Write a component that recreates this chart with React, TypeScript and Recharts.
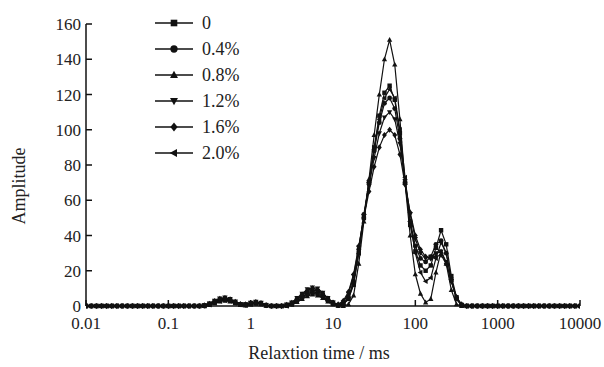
import React from 'react';
import { LineChart, Line, XAxis, YAxis } from 'recharts';

// relaxation times (ms), 16 points per decade
const TIMES = [
  0.01, 0.01155, 0.01334, 0.0154, 0.01778, 0.02054, 0.02371, 0.02738, 0.03162, 0.03652, 0.04217, 0.0487, 0.05623, 0.06494, 0.07499, 0.0866,
  0.1, 0.1155, 0.1334, 0.154, 0.1778, 0.2054, 0.2371, 0.2738, 0.3162, 0.3652, 0.4217, 0.487, 0.5623, 0.6494, 0.7499, 0.866,
  1, 1.155, 1.334, 1.54, 1.778, 2.054, 2.371, 2.738, 3.162, 3.652, 4.217, 4.87, 5.623, 6.494, 7.499, 8.66,
  10, 11.55, 13.34, 15.4, 17.78, 20.54, 23.71, 27.38, 31.62, 36.52, 42.17, 48.7, 56.23, 64.94, 74.99, 86.6,
  100, 115.5, 133.4, 154, 177.8, 205.4, 237.1, 273.8, 316.2, 365.2, 421.7, 487, 562.3, 649.4, 749.9, 866,
  1000, 1155, 1334, 1540, 1778, 2054, 2371, 2738, 3162, 3652, 4217, 4870, 5623, 6494, 7499, 8660,
  10000,
];

const S0 = [
  0, 0, 0, 0, 0, 0, 0, 0, 0, 0, 0, 0, 0, 0, 0, 0,
  0, 0, 0, 0, 0, 0, 0, 0.3, 1.2, 2.5, 3.5, 4, 3.3, 2, 1, 0.8,
  1.5, 2, 1.5, 0.5, 0, 0, 0, 0.5, 1.5, 3.5, 6, 8, 9, 8.5, 6.5, 4,
  1.8, 0.5, 1, 4, 12, 30, 50, 70, 90, 108, 121, 125, 117, 98, 70, 46,
  31, 23, 20, 23, 33, 43, 35, 17, 5, 0.5, 0, 0, 0, 0, 0, 0,
  0, 0, 0, 0, 0, 0, 0, 0, 0, 0, 0, 0, 0, 0, 0, 0,
  0,
];

const S04 = [
  0, 0, 0, 0, 0, 0, 0, 0, 0, 0, 0, 0, 0, 0, 0, 0,
  0, 0, 0, 0, 0, 0, 0, 0, 0.8, 2, 3, 3.5, 3, 1.8, 0.8, 0.5,
  1.2, 1.8, 1.2, 0.3, 0, 0, 0, 0.3, 1, 3, 5, 7, 8, 7.5, 5.5, 3,
  1.2, 0.3, 1, 5, 14, 32, 52, 70, 88, 104, 115, 118, 112, 95, 70, 48,
  34, 27, 25, 28, 35, 37, 30, 15, 4, 0.5, 0, 0, 0, 0, 0, 0,
  0, 0, 0, 0, 0, 0, 0, 0, 0, 0, 0, 0, 0, 0, 0, 0,
  0,
];

const S08 = [
  0, 0, 0, 0, 0, 0, 0, 0, 0, 0, 0, 0, 0, 0, 0, 0,
  0, 0, 0, 0, 0, 0, 0, 0, 0.5, 1.5, 2.5, 3, 2.5, 1.5, 0.6, 0.3,
  0.8, 1.3, 1, 0.2, 0, 0, 0, 0, 0.8, 2.2, 4, 5.5, 6.5, 6, 4.5, 2.5,
  1, 0.2, 0, 1, 6, 24, 48, 72, 97, 120, 140, 151, 137, 106, 70, 40,
  18, 7, 2, 4, 19, 31, 24, 9, 1, 0, 0, 0, 0, 0, 0, 0,
  0, 0, 0, 0, 0, 0, 0, 0, 0, 0, 0, 0, 0, 0, 0, 0,
  0,
];

const S12 = [
  0, 0, 0, 0, 0, 0, 0, 0, 0, 0, 0, 0, 0, 0, 0, 0,
  0, 0, 0, 0, 0, 0, 0, 0.5, 1.5, 3, 4.2, 4.8, 4, 2.5, 1.2, 1,
  1.8, 2.4, 1.8, 0.6, 0, 0, 0, 0.8, 2, 4.5, 7, 9.5, 10.5, 10, 7.5, 4.5,
  2, 0.5, 2, 7, 17, 33, 51, 68, 84, 98, 107, 110, 106, 92, 71, 52,
  38, 30, 27, 28, 30, 31, 25, 14, 4, 0.5, 0, 0, 0, 0, 0, 0,
  0, 0, 0, 0, 0, 0, 0, 0, 0, 0, 0, 0, 0, 0, 0, 0,
  0,
];

const S16 = [
  0, 0, 0, 0, 0, 0, 0, 0, 0, 0, 0, 0, 0, 0, 0, 0,
  0, 0, 0, 0, 0, 0, 0, 0.4, 1.3, 2.8, 4, 4.5, 3.8, 2.3, 1.1, 0.9,
  1.6, 2.2, 1.6, 0.5, 0, 0, 0, 0.6, 1.8, 4, 6.5, 8.8, 10, 9.2, 7, 4.2,
  2, 1, 3, 8, 18, 34, 50, 65, 79, 90, 97, 100, 97, 86, 69, 53,
  40, 32, 28, 27, 28, 29, 24, 14, 5, 1, 0, 0, 0, 0, 0, 0,
  0, 0, 0, 0, 0, 0, 0, 0, 0, 0, 0, 0, 0, 0, 0, 0,
  0,
];

const S20 = [
  0, 0, 0, 0, 0, 0, 0, 0, 0, 0, 0, 0, 0, 0, 0, 0,
  0, 0, 0, 0, 0, 0, 0, 0, 0.7, 1.8, 2.8, 3.3, 2.8, 1.6, 0.7, 0.4,
  1, 1.5, 1.1, 0.3, 0, 0, 0, 0, 1, 2.6, 4.5, 6.2, 7.2, 6.8, 5, 2.8,
  1.2, 0.3, 1, 4, 13, 30, 50, 70, 89, 106, 118, 123, 118, 100, 73, 48,
  30, 19, 14, 16, 27, 36, 30, 15, 4, 0.5, 0, 0, 0, 0, 0, 0,
  0, 0, 0, 0, 0, 0, 0, 0, 0, 0, 0, 0, 0, 0, 0, 0,
  0,
];

const NAMES = ['0', '0.4%', '0.8%', '1.2%', '1.6%', '2.0%'];
const VALUES = [S0, S04, S08, S12, S16, S20];
const SHAPES = ['square', 'circle', 'up', 'down', 'diamond', 'left'];

const X_TICKS = [0.01, 0.1, 1, 10, 100, 1000, 10000];
const Y_TICKS = [0, 20, 40, 60, 80, 100, 120, 140, 160];

const rows = TIMES.map((t, i) => {
  const row: Record<string, number> = { t };
  VALUES.forEach((v, j) => {
    row[`s${j}`] = v[i];
  });
  return row;
});

const FONT = '"Liberation Serif", "Times New Roman", serif';
const INK = '#111';

function Marker({ shape, cx, cy, s }: { shape: string; cx: number; cy: number; s: number }) {
  switch (shape) {
    case 'square':
      return <rect x={cx - s} y={cy - s} width={2 * s} height={2 * s} fill={INK} />;
    case 'circle':
      return <circle cx={cx} cy={cy} r={s * 1.1} fill={INK} />;
    case 'up':
      return <polygon points={`${cx},${cy - s * 1.3} ${cx + s * 1.2},${cy + s * 0.9} ${cx - s * 1.2},${cy + s * 0.9}`} fill={INK} />;
    case 'down':
      return <polygon points={`${cx},${cy + s * 1.3} ${cx + s * 1.2},${cy - s * 0.9} ${cx - s * 1.2},${cy - s * 0.9}`} fill={INK} />;
    case 'diamond':
      return <polygon points={`${cx},${cy - s * 1.4} ${cx + s * 1.1},${cy} ${cx},${cy + s * 1.4} ${cx - s * 1.1},${cy}`} fill={INK} />;
    default:
      return <polygon points={`${cx - s * 1.3},${cy} ${cx + s * 0.9},${cy - s * 1.2} ${cx + s * 0.9},${cy + s * 1.2}`} fill={INK} />;
  }
}

function XLabel({ viewBox }: any) {
  const { x, y, width, height } = viewBox;
  return (
    <text x={x + width / 2 - 14} y={y + height - 8} textAnchor="middle" fontFamily={FONT} fontSize={18} fill="#222">
      Relaxtion time / ms
    </text>
  );
}

function YLabel({ viewBox }: any) {
  const { x, y, height } = viewBox;
  const cx = x + 19;
  const cy = y + height / 2 + 21;
  return (
    <text x={cx} y={cy} transform={`rotate(-90, ${cx}, ${cy})`} textAnchor="middle" dominantBaseline="central" fontFamily={FONT} fontSize={18} fill="#222">
      Amplitude
    </text>
  );
}

function LegendBox() {
  return (
    <svg width={604} height={367} style={{ position: 'absolute', left: 0, top: 0, pointerEvents: 'none' }}>
      {NAMES.map((name, i) => {
        const y = 23 + i * 26;
        return (
          <g key={name}>
            <line x1={155} x2={193} y1={y} y2={y} stroke={INK} strokeWidth={1.4} />
            <Marker shape={SHAPES[i]} cx={174} cy={y} s={3.3} />
            <text x={202} y={y} dominantBaseline="central" fontFamily={FONT} fontSize={18} fill="#222">
              {name}
            </text>
          </g>
        );
      })}
    </svg>
  );
}

export default function App() {
  const tickStyle = { fill: '#222', fontSize: 17, fontFamily: FONT };
  return (
    <div style={{ position: 'absolute', left: 0, top: 0, width: 604, height: 367, background: '#fff' }}>
      <LineChart width={604} height={367} data={rows} margin={{ top: 24, right: 24, left: 0, bottom: 0 }}>
        <XAxis
          dataKey="t"
          type="number"
          scale="log"
          domain={[0.01, 10000]}
          ticks={X_TICKS}
          interval={0}
          tickFormatter={(v: number) => String(v)}
          height={61}
          tickSize={-6}
          tickMargin={17}
          stroke={INK}
          strokeWidth={1.5}
          tick={tickStyle}
          allowDataOverflow
          label={{ content: XLabel }}
        />
        <YAxis
          type="number"
          domain={[0, 160]}
          ticks={Y_TICKS}
          interval={0}
          width={86}
          tickSize={-6}
          tickMargin={11}
          stroke={INK}
          strokeWidth={1.5}
          tick={tickStyle}
          label={{ content: YLabel }}
        />
        {NAMES.map((name, j) => (
          <Line
            key={name}
            dataKey={`s${j}`}
            name={name}
            type="linear"
            stroke={INK}
            strokeWidth={1.2}
            isAnimationActive={false}
            dot={(p: any) => <Marker key={`${name}-${p.index}`} shape={SHAPES[j]} cx={p.cx} cy={p.cy} s={2.2} />}
            activeDot={false}
          />
        ))}
      </LineChart>
      <LegendBox />
    </div>
  );
}
